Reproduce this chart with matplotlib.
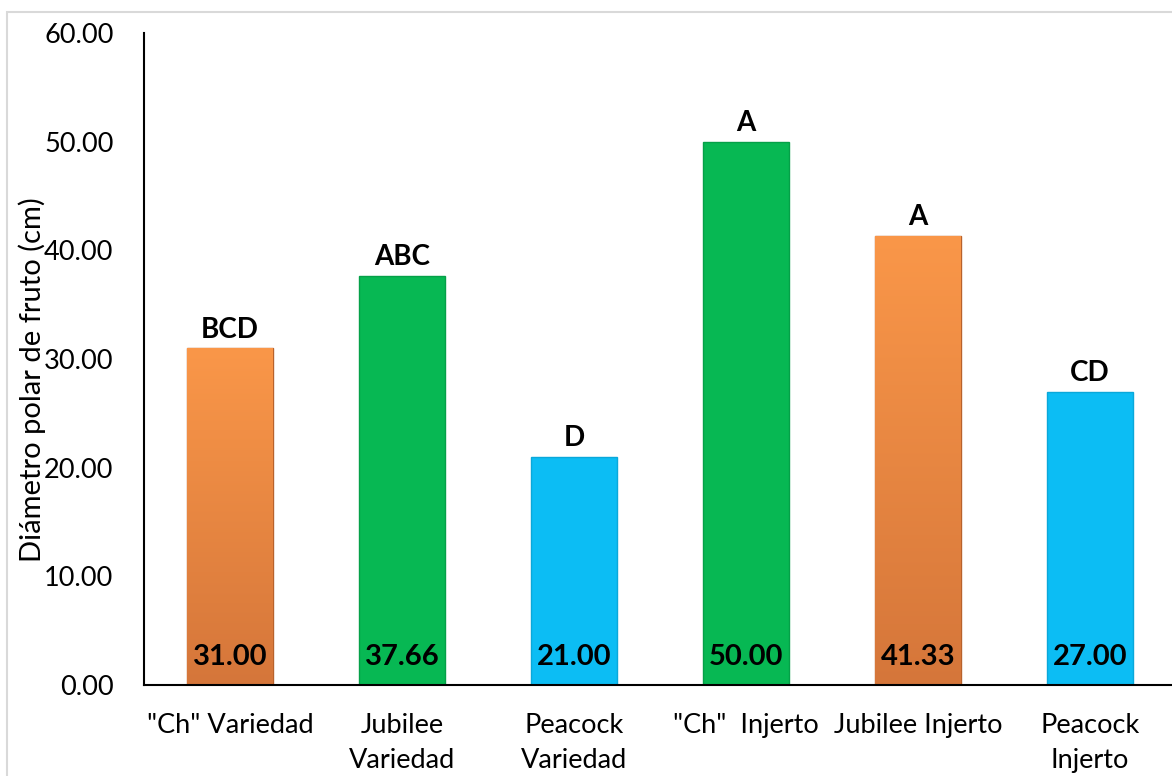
import numpy as np
import matplotlib.pyplot as plt
from matplotlib.patches import Rectangle
from matplotlib.colors import LinearSegmentedColormap

tratamientos = ['"Ch" Variedad', 'Jubilee\nVariedad', 'Peacock\nVariedad',
                '"Ch"  Injerto', 'Jubilee Injerto', 'Peacock\nInjerto']
diametro = [31.00, 37.66, 21.00, 50.00, 41.33, 27.00]
letras = ['BCD', 'ABC', 'D', 'A', 'A', 'CD']
tipo = ['naranja', 'verde', 'azul', 'verde', 'naranja', 'azul']

colores = {'naranja': '#F79246', 'verde': '#07B853', 'azul': '#0CBDF4'}
bordes = {'naranja': '#B8622C', 'verde': '#05A048', 'azul': '#0AA8DA'}

plt.rcParams['font.family'] = ['Lato', 'DejaVu Sans']

fig = plt.figure(figsize=(11.72, 7.76), dpi=100)
ax = fig.add_axes([144 / 1172, 1 - 685 / 776, 1032 / 1172, 652 / 776])

# marco gris del grafico
fig.patches.append(Rectangle((7 / 1172, -0.1), 1.2, 1 - 12 / 776 + 0.1,
                             transform=fig.transFigure, fill=False,
                             edgecolor='#D9D9D9', linewidth=1.5))

x = np.arange(len(diametro))
bars = ax.bar(x, diametro, width=0.5, zorder=2,
              color=[colores[t] for t in tipo],
              edgecolor=[bordes[t] for t in tipo], linewidth=1.0)

# degradado en las barras naranjas
cmap_nar = LinearSegmentedColormap.from_list('nar', ['#D5763A', '#FA9749'])
grad = np.linspace(0, 1, 256).reshape(-1, 1)
for b, t in zip(bars, tipo):
    if t == 'naranja':
        x0, y0 = b.get_x(), b.get_y()
        im = ax.imshow(grad, cmap=cmap_nar, origin='lower', aspect='auto',
                       extent=[x0, x0 + b.get_width(), y0, y0 + b.get_height()],
                       zorder=2.5)
        im.set_clip_path(b)

for xi, v, l in zip(x, diametro, letras):
    ax.text(xi, v + 0.5, l, ha='center', va='bottom', fontsize=20,
            fontweight='bold', color='black', zorder=4)
    ax.text(xi, 1.4, f'{v:.2f}', ha='center', va='bottom', fontsize=21,
            fontweight='bold', color='black', zorder=4)

ax.set_xlim(-0.5, 5.5)
ax.set_ylim(0, 60)
ax.set_yticks(np.arange(0, 61, 10))
ax.set_yticklabels([f'{v:.2f}' for v in np.arange(0, 61, 10)], fontsize=19.5)
ax.set_xticks(x)
ax.set_xticklabels(tratamientos, fontsize=19.5, linespacing=1.5)
ax.tick_params(axis='y', length=0, pad=22)
ax.tick_params(axis='x', length=0, pad=20)
ax.set_ylabel('Diámetro polar de fruto (cm)', fontsize=21)
ax.yaxis.set_label_coords(-0.095, 0.468)

for s in ['top', 'right']:
    ax.spines[s].set_visible(False)
ax.spines['left'].set_linewidth(1.5)
ax.spines['bottom'].set_linewidth(1.5)

fig.savefig('out.png', dpi=100)
